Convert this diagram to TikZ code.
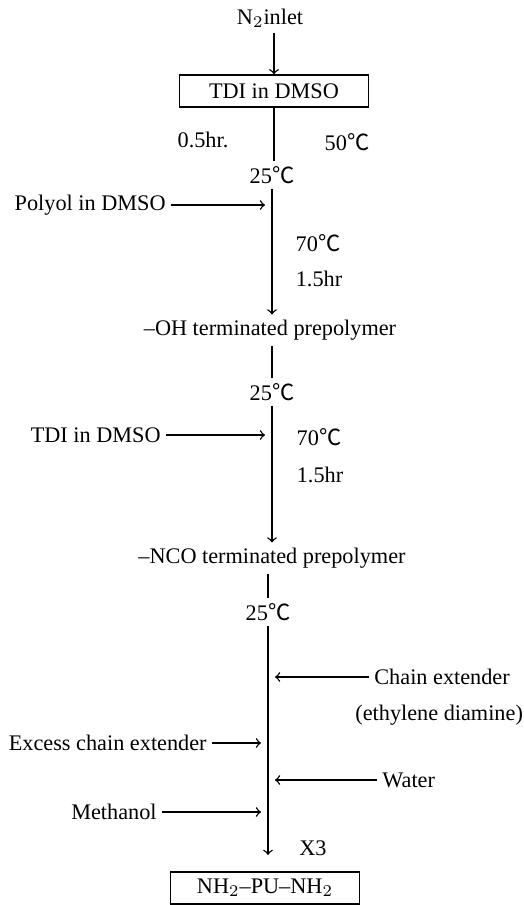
\documentclass[tikz,border=0pt]{standalone}
\usepackage{fontspec}
\setmainfont{Liberation Serif}
\newfontfamily\cjk{Noto Sans CJK SC}
\newcommand{\degc}{{\cjk ℃}}
\usetikzlibrary{calc}

\begin{document}
\begin{tikzpicture}[x=0.015cm,y=-0.015cm,semithick,
    font=\fontsize{9.5}{11}\selectfont,inner sep=2pt,
    box/.style={draw,minimum width=2.83cm,minimum height=0.48cm,inner sep=1pt},
    flow/.style={->},
    feed/.style={->,shorten >=3pt}]
      \useasboundingbox (0,0) rectangle (524,905);

      % Start
      \node (n2) at (270,18) {N$_2$inlet};
      \node[box] (tdi) at (274,91) {TDI in DMSO};
      \node (hra) at (203,140) {0.5hr.};
      \node (c50) at (347,142) {50\degc};
      \node (ta) at (272,175) {25\degc};

      % First stage
      \node[anchor=east] (polyol) at (171,205) {Polyol in DMSO};
      \node (c70a) at (318,243) {70\degc};
      \node (hrb) at (319,279) {1.5hr};
      \node (ohp) at (270,330) {--OH terminated prepolymer};
      \node (tb) at (272,392) {25\degc};

      % Second stage
      \node[anchor=east] (tdib) at (166,435) {TDI in DMSO};
      \node (c70b) at (319,437) {70\degc};
      \node (hrc) at (320,475) {1.5hr};
      \node (ncop) at (272,558) {--NCO terminated prepolymer};
      \node (tc) at (268,612) {25\degc};

      % Chain extension
      \node[anchor=west] (chain) at (369,677) {Chain extender};
      \node[anchor=west] (ediam) at (350,715) {(ethylene diamine)};
      \node[anchor=east] (excess) at (212,743) {Excess chain extender};
      \node[anchor=west] (water) at (377,780) {Water};
      \node[anchor=east] (meth) at (162,812) {Methanol};
      \node (x3) at (313,848) {X3};
      \node[box] (pu) at (265,888) {NH$_2$--PU--NH$_2$};

      % Main line
      \draw[flow] (n2.south -| tdi.north) -- (tdi.north);
      \draw (tdi.south) -- (tdi.south |- ta.north);
      \draw[flow] (ta.south) -- (ta.south |- ohp.north);
      \draw (ohp.south -| tb.north) -- (tb.north);
      \draw[flow] (tb.south) -- (tb.south |- ncop.north);
      \draw (ncop.south -| tc.north) -- (tc.north);
      \draw[flow,shorten >=7pt] (tc.south) -- (tc.south |- pu.north);

      % Feeds
      \draw[feed] (polyol.east) -- (polyol.east -| ta.south);
      \draw[feed] (tdib.east) -- (tdib.east -| tb.south);
      \draw[feed] (chain.west) -- (chain.west -| tc.south);
      \draw[feed] (excess.east) -- (excess.east -| tc.south);
      \draw[feed] (water.west) -- (water.west -| tc.south);
      \draw[feed] (meth.east) -- (meth.east -| tc.south);
\end{tikzpicture}
\end{document}
